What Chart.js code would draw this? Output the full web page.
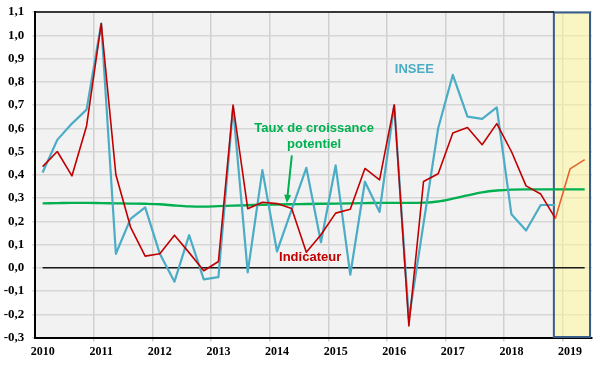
<!DOCTYPE html>
<html>
<head>
<meta charset="utf-8">
<script src="https://cdn.jsdelivr.net/npm/chart.js@4/dist/chart.umd.min.js"></script>
<style>
  html, body { margin: 0; padding: 0; background: #ffffff; }
  #wrap { width: 600px; height: 371px; position: relative; }
</style>
</head>
<body>
<div id="wrap"><canvas id="c" width="600" height="371"></canvas></div>
<script>
// Quarterly categories (2010 Q1 .. 2019 Q2); a year label on each first quarter
const quarterLabels = [
  '2010','','','',
  '2011','','','',
  '2012','','','',
  '2013','','','',
  '2014','','','',
  '2015','','','',
  '2016','','','',
  '2017','','','',
  '2018','','','',
  '2019',''
];

// INSEE quarterly GDP growth (%)
const inseeValues = [
  0.41, 0.55, 0.62, 0.68,
  1.05, 0.06, 0.21, 0.26,
  0.06, -0.06, 0.14, -0.05,
  -0.04, 0.69, -0.02, 0.42,
  0.07, 0.25, 0.43, 0.11,
  0.44, -0.03, 0.37, 0.24,
  0.70, -0.22, 0.19, 0.60,
  0.83, 0.65, 0.64, 0.69,
  0.23, 0.16, 0.27, 0.27,
  null, null
];

// Indicateur (%)
const indicateurValues = [
  0.435, 0.50, 0.395, 0.61,
  1.05, 0.40, 0.175, 0.05,
  0.06, 0.14, 0.065, -0.013,
  0.027, 0.70, 0.254, 0.282,
  0.276, 0.255, 0.067, 0.142,
  0.235, 0.252, 0.427, 0.378,
  0.70, -0.25, 0.371, 0.404,
  0.58, 0.603, 0.529, 0.62,
  0.50, 0.352, 0.317, 0.212,
  0.425, 0.465
];

// Taux de croissance potentiel (%)
const potentielValues = [
  0.277, 0.278, 0.279, 0.279,
  0.278, 0.277, 0.276, 0.275,
  0.273, 0.268, 0.264, 0.263,
  0.265, 0.267, 0.269, 0.271,
  0.272, 0.273, 0.274, 0.275,
  0.276, 0.277, 0.278, 0.279,
  0.279, 0.279, 0.280, 0.285,
  0.297, 0.311, 0.324, 0.332,
  0.336, 0.337, 0.337, 0.337,
  0.337, 0.337
];

// Zero reference line
const zeroValues = [
  0, 0, 0, 0, 0, 0, 0, 0, 0, 0,
  0, 0, 0, 0, 0, 0, 0, 0, 0, 0,
  0, 0, 0, 0, 0, 0, 0, 0, 0, 0,
  0, 0, 0, 0, 0, 0, 0, 0
];

// First category of the highlighted (forecast) zone
const forecastStartIndex = 35;

const Y_MIN = -0.3, Y_MAX = 1.1, Y_STEP = 0.1;

const COL_INSEE = '#4BACC6';
const COL_IND = '#C00000';
const COL_IND_FCST = '#E8602C';
const COL_POT = '#00B050';

const decor = {
  id: 'decor',
  beforeDraw(chart) {
    const { ctx, chartArea: a } = chart;
    ctx.save();
    ctx.fillStyle = '#F2F2F2';
    ctx.fillRect(a.left, a.top, a.right - a.left, a.bottom - a.top);
    ctx.restore();
  },
  beforeDatasetsDraw(chart) {
    const { ctx, chartArea: a, scales: { x } } = chart;
    const bx = x.getPixelForValue(forecastStartIndex) - 1.5;
    ctx.save();
    ctx.fillStyle = 'rgba(255,250,150,0.5)';
    ctx.fillRect(bx, a.top, a.right - 2 - bx, a.bottom - a.top - 1);
    ctx.strokeStyle = '#385D8A';
    ctx.lineWidth = 2;
    ctx.strokeRect(bx, a.top + 0.5, a.right - 2 - bx, a.bottom - a.top - 1);
    // top frame line
    ctx.strokeStyle = '#000';
    ctx.lineWidth = 1.5;
    ctx.beginPath();
    ctx.moveTo(a.left, a.top);
    ctx.lineTo(bx, a.top);
    ctx.stroke();
    ctx.restore();
  },
  afterDatasetsDraw(chart) {
    const { ctx, scales: { x, y } } = chart;
    ctx.save();
    ctx.font = 'bold 13px "Liberation Sans", Arial, sans-serif';
    ctx.textAlign = 'center';
    ctx.textBaseline = 'middle';
    ctx.fillStyle = COL_INSEE;
    ctx.fillText('INSEE', x.getPixelForValue(25.37), y.getPixelForValue(0.851));
    ctx.fillStyle = COL_POT;
    ctx.fillText('Taux de croissance', x.getPixelForValue(18.53), y.getPixelForValue(0.60));
    ctx.fillText('potentiel', x.getPixelForValue(18.53), y.getPixelForValue(0.531));
    ctx.fillStyle = COL_IND;
    ctx.fillText('Indicateur', x.getPixelForValue(18.26), y.getPixelForValue(0.043));
    // arrow
    const x1 = x.getPixelForValue(17.01), y1 = y.getPixelForValue(0.483);
    const x2 = x.getPixelForValue(16.67), y2 = y.getPixelForValue(0.279);
    ctx.strokeStyle = COL_POT;
    ctx.fillStyle = COL_POT;
    ctx.lineWidth = 2;
    ctx.beginPath();
    ctx.moveTo(x1, y1);
    const ang = Math.atan2(y2 - y1, x2 - x1);
    ctx.lineTo(x2 - 6 * Math.cos(ang), y2 - 6 * Math.sin(ang));
    ctx.stroke();
    ctx.beginPath();
    ctx.moveTo(x2, y2);
    ctx.lineTo(x2 - 8 * Math.cos(ang) + 3.5 * Math.sin(ang), y2 - 8 * Math.sin(ang) - 3.5 * Math.cos(ang));
    ctx.lineTo(x2 - 8 * Math.cos(ang) - 3.5 * Math.sin(ang), y2 - 8 * Math.sin(ang) + 3.5 * Math.cos(ang));
    ctx.closePath();
    ctx.fill();
    ctx.restore();
  }
};

new Chart(document.getElementById('c'), {
  type: 'line',
  data: {
    labels: quarterLabels,
    datasets: [
      {
        label: 'Indicateur',
        data: indicateurValues,
        borderColor: COL_IND,
        borderWidth: 1.6,
        borderJoinStyle: 'round',
        pointRadius: 0,
        tension: 0,
        segment: {
          borderColor: c => (c.p0DataIndex >= forecastStartIndex ? COL_IND_FCST : COL_IND)
        }
      },
      {
        label: 'INSEE',
        data: inseeValues,
        borderColor: COL_INSEE,
        borderWidth: 2.2,
        borderJoinStyle: 'round',
        pointRadius: 0,
        tension: 0,
        spanGaps: false
      },
      {
        label: 'Taux de croissance potentiel',
        data: potentielValues,
        borderColor: COL_POT,
        borderWidth: 2.4,
        borderJoinStyle: 'round',
        pointRadius: 0,
        cubicInterpolationMode: 'monotone'
      },
      {
        label: 'zero',
        data: zeroValues,
        borderColor: '#1a1a1a',
        borderWidth: 1.4,
        pointRadius: 0,
        tension: 0
      }
    ]
  },
  options: {
    responsive: false,
    animation: false,
    devicePixelRatio: 1,
    layout: { padding: { left: 0, right: 8, top: 12, bottom: 0 } },
    plugins: {
      legend: { display: false },
      tooltip: { enabled: false }
    },
    scales: {
      x: {
        type: 'category',
        offset: true,
        grid: {
          offset: true,
          color: c => ((c.index % 4 === 0 && c.index > 0) ? '#D0D0D0' : 'rgba(0,0,0,0)'),
          lineWidth: 1.5,
          tickLength: 4,
          drawOnChartArea: true
        },
        border: { color: '#000', width: 2 },
        ticks: {
          autoSkip: false,
          maxRotation: 0,
          minRotation: 0,
          padding: 3,
          color: '#000',
          font: { family: '"Liberation Serif", "Times New Roman", serif', size: 12, weight: 'bold' },
          callback: (v, i) => quarterLabels[i]
        },
        afterFit: s => { s.height = 33.5; }
      },
      y: {
        min: Y_MIN,
        max: Y_MAX,
        grid: { color: '#D6D6D6', lineWidth: 1.5, tickLength: 3 },
        border: { color: '#000', width: 2 },
        ticks: {
          stepSize: Y_STEP,
          padding: 8,
          color: '#000',
          font: { family: '"Liberation Serif", "Times New Roman", serif', size: 13, weight: 'bold' },
          callback: v => (Math.round(v * 10) / 10).toFixed(1).replace('.', ',')
        },
        afterFit: s => { s.width = 35.3; s.paddingTop = 0; s.paddingBottom = 0; }
      }
    }
  },
  plugins: [decor]
});
</script>
</body>
</html>
